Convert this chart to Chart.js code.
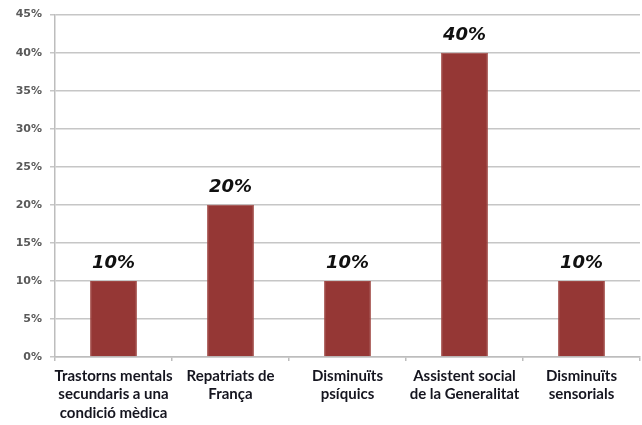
<!DOCTYPE html>
<html>
<head>
<meta charset="utf-8">
<script src="https://cdn.jsdelivr.net/npm/chart.js@4"></script>
<style>
  html, body { margin: 0; padding: 0; background: #fff; }
  #wrap { width: 642px; height: 425px; }
</style>
</head>
<body>
<div id="wrap"><canvas id="myChart"></canvas></div>
<script>
const categories = [
  ['Trastorns mentals', 'secundaris a una', 'condició mèdica'],
  ['Repatriats de', 'França'],
  ['Disminuïts', 'psíquics'],
  ['Assistent social', 'de la Generalitat'],
  ['Disminuïts', 'sensorials']
];
const percentages = [10, 20, 10, 40, 10];
const yTicks = [0, 5, 10, 15, 20, 25, 30, 35, 40, 45];

const ctx = document.getElementById('myChart');

// percentage written above each bar
const valueLabels = {
  id: 'valueLabels',
  afterDatasetsDraw(chart) {
    const c = chart.ctx;
    const meta = chart.getDatasetMeta(0);
    c.save();
    c.font = 'italic bold 18px "DejaVu Sans"';
    c.fillStyle = '#111';
    c.textAlign = 'center';
    c.textBaseline = 'alphabetic';
    meta.data.forEach((bar, i) => {
      c.fillText(percentages[i] + '%', bar.x, bar.y - 13);
    });
    c.restore();
  }
};

new Chart(ctx, {
  type: 'bar',
  data: {
    labels: categories,
    datasets: [{
      data: percentages,
      backgroundColor: '#953735',
      borderColor: '#a04844',
      borderWidth: 1,
      barPercentage: 0.4,
      categoryPercentage: 1
    }]
  },
  options: {
    responsive: true,
    maintainAspectRatio: false,
    animation: false,
    layout: { padding: { top: 13, right: 2, left: 0, bottom: 0 } },
    plugins: {
      legend: { display: false },
      tooltip: { enabled: false }
    },
    scales: {
      x: {
        offset: true,
        afterFit(scale) { scale.height = 68; },
        grid: {
          drawOnChartArea: false,
          drawTicks: true,
          tickLength: 4,
          color: '#bdbdbd',
          lineWidth: 1.5
        },
        border: { color: '#bdbdbd', width: 1.5 },
        ticks: {
          maxRotation: 0,
          autoSkip: false,
          padding: 6,
          color: '#15151f',
          font: { family: 'Lato', weight: 'bold', size: 15, lineHeight: 1.22 }
        }
      },
      y: {
        min: 0,
        max: 45,
        afterFit(scale) { scale.width = 55; },
        afterBuildTicks(scale) { scale.ticks = yTicks.map(v => ({ value: v })); },
        grid: {
          color: '#c6c6c6',
          lineWidth: 1.5,
          tickLength: 5
        },
        border: { color: '#bdbdbd', width: 1.5 },
        ticks: {
          padding: 8,
          color: '#5a5a5a',
          font: { family: 'DejaVu Sans', weight: 'bold', size: 11 },
          callback: (v) => v + '%'
        }
      }
    }
  },
  plugins: [valueLabels]
});
</script>
</body>
</html>
